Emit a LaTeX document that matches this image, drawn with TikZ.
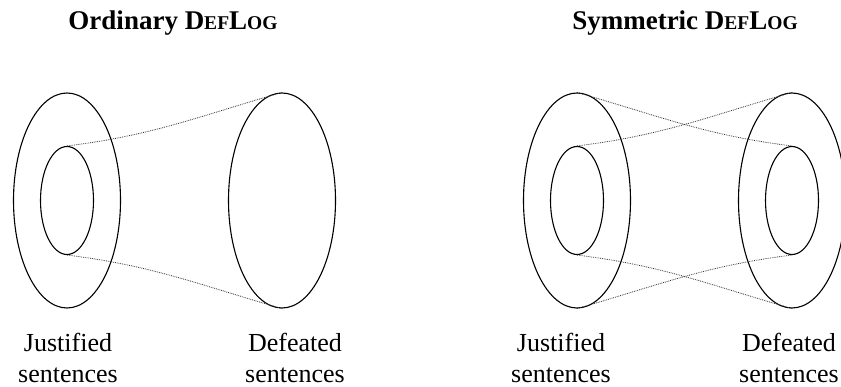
\documentclass[tikz,border=0pt]{standalone}
\usepackage{fontspec}
\setmainfont{Liberation Serif}
\usetikzlibrary{shapes.geometric}
\begin{document}
\begin{tikzpicture}[x=1pt,y=-1pt,
  outerset/.style={draw, ellipse, line width=1.1pt, inner sep=0pt, minimum width=107pt, minimum height=215pt},
  innerset/.style={draw, ellipse, line width=1.1pt, inner sep=0pt, minimum width=53pt, minimum height=108pt},
  link/.style={densely dotted, line width=0.8pt, black!80},
  titletext/.style={font=\fontsize{27}{32}\selectfont\bfseries, inner sep=0pt, anchor=base},
  labeltext/.style={font=\fontsize{26}{31}\selectfont, align=center, inner sep=0pt, anchor=north}]
\clip (0,0) rectangle (841,387);
\fill[white] (0,0) rectangle (841,387);
\newcommand{\myDefLog}{D{\fontsize{19.5}{20}\selectfont EF}L{\fontsize{19.5}{20}\selectfont OG}}
% titles
\node[titletext] (t1) at (173,30) {Ordinary \myDefLog};
\node[titletext] (t2) at (685,30) {Symmetric \myDefLog};
% ordinary
\node[outerset] (jo) at (67,200.5) {};
\node[innerset] (ji) at (67,200.5) {};
\node[outerset] (do) at (282,200.5) {};
\draw[link] (ji.north) to[out=7,in=196] (do.north);
\draw[link] (ji.south) to[out=-7,in=164] (do.south);
% symmetric
\node[outerset] (sjo) at (577,200.5) {};
\node[innerset] (sji) at (577,200.5) {};
\node[outerset] (sdo) at (792,200.5) {};
\node[innerset] (sdi) at (792,200.5) {};
\draw[link] (sji.north) to[out=7,in=196] (sdo.north);
\draw[link] (sjo.north) to[out=-16,in=173] (sdi.north);
\draw[link] (sji.south) to[out=-7,in=164] (sdo.south);
\draw[link] (sjo.south) to[out=16,in=187] (sdi.south);
% labels
\node[labeltext] (l1) at (68,333) {Justified\\sentences};
\node[labeltext] (l2) at (295,333) {Defeated\\sentences};
\node[labeltext] (l3) at (561,333) {Justified\\sentences};
\node[labeltext] (l4) at (789,333) {Defeated\\sentences};
\end{tikzpicture}
\end{document}
